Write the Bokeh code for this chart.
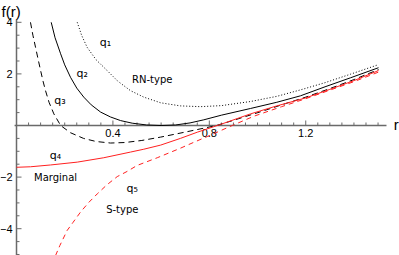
import numpy as np
from bokeh.plotting import figure
from bokeh.models import Range1d, Label
from bokeh.embed import file_html
from bokeh.resources import INLINE
from bokeh.core.properties import value

# ---- data ----
r_q1 = [0.252, 0.27, 0.293, 0.33, 0.376, 0.42, 0.473, 0.528, 0.598, 0.68, 0.763, 0.85, 0.971, 1.08, 1.178, 1.28, 1.386, 1.502]
f_q1 = [4.0, 3.5, 3.03, 2.55, 2.13, 1.72, 1.35, 1.10, 0.88, 0.76, 0.73, 0.77, 0.93, 1.13, 1.38, 1.66, 1.99, 2.36]

r_q2 = [0.144, 0.16, 0.183, 0.2, 0.224, 0.25, 0.279, 0.31, 0.349, 0.39, 0.432, 0.48, 0.54, 0.6, 0.66, 0.72, 0.777, 0.85, 0.971, 1.08, 1.178, 1.28, 1.386, 1.502]
f_q2 = [4.0, 3.4, 2.78, 2.35, 1.87, 1.45, 1.10, 0.80, 0.52, 0.33, 0.19, 0.09, 0.02, 0.0, 0.02, 0.10, 0.22, 0.40, 0.66, 0.90, 1.15, 1.50, 1.85, 2.24]

r_q3 = [0.058, 0.068, 0.079, 0.09, 0.1, 0.11, 0.12, 0.135, 0.155, 0.183, 0.224, 0.278, 0.33, 0.39, 0.45, 0.52, 0.598, 0.708, 0.83, 0.9, 1.012, 1.1, 1.2, 1.3, 1.4, 1.502]
f_q3 = [4.0, 3.5, 3.03, 2.55, 2.13, 1.72, 1.36, 0.90, 0.45, 0.0, -0.28, -0.50, -0.62, -0.68, -0.66, -0.58, -0.45, -0.24, 0.0, 0.20, 0.53, 0.80, 1.10, 1.43, 1.78, 2.17]

r_q4 = [0.0, 0.058, 0.141, 0.252, 0.362, 0.473, 0.528, 0.598, 0.68, 0.75, 0.846, 0.971, 1.08, 1.2, 1.3, 1.4, 1.502]
f_q4 = [-1.62, -1.60, -1.53, -1.42, -1.25, -1.03, -0.92, -0.76, -0.50, -0.26, 0.04, 0.45, 0.76, 1.07, 1.40, 1.74, 2.13]

r_q5 = [0.162, 0.18, 0.21, 0.235, 0.266, 0.3, 0.335, 0.375, 0.418, 0.459, 0.5, 0.584, 0.68, 0.736, 0.791, 0.895, 0.985, 1.1, 1.2, 1.3, 1.4, 1.502]
f_q5 = [-5.04, -4.65, -4.07, -3.75, -3.35, -2.98, -2.65, -2.30, -1.98, -1.78, -1.55, -1.25, -0.88, -0.65, -0.43, 0.0, 0.36, 0.73, 1.04, 1.37, 1.70, 2.07]

x_ticks = [0.4, 0.8, 1.2]
x_tick_labels = ["0.4", "0.8", "1.2"]
y_ticks = [-4, -2, 2, 4]
y_tick_labels = ["\u22124", "\u22122", "2", "4"]

x_min, x_max = -0.0664, 1.589
y_min, y_max = -5.039, 4.845

p = figure(width=399, height=255, x_range=Range1d(x_min, x_max), y_range=Range1d(y_min, y_max),
           toolbar_location=None, output_backend="svg", x_axis_location=None, y_axis_location=None,
           min_border=0, outline_line_color=None)
p.grid.visible = False
p.background_fill_color = "white"

# axes lines
axis_col = "#6a6a6a"
p.segment(x0=[-0.008], y0=[0], x1=[1.535], y1=[0], line_color=axis_col, line_width=1.5)
p.segment(x0=[0], y0=[y_min], x1=[0], y1=[4.1], line_color=axis_col, line_width=1.5)

# ticks
x_minor = [t for t in np.round(np.arange(0.05, 1.5001, 0.05), 3) if t not in x_ticks]
p.ray(x=x_minor, y=[0] * len(x_minor), length=3, length_units="screen", angle=np.pi / 2,
      line_color=axis_col, line_width=1)
p.ray(x=x_ticks, y=[0] * len(x_ticks), length=5, length_units="screen", angle=np.pi / 2,
      line_color=axis_col, line_width=1)
y_minor = [t for t in np.arange(-5.0, 4.01, 0.5) if t not in y_ticks and t != 0]
p.ray(x=[0] * len(y_minor), y=y_minor, length=3, length_units="screen", angle=0,
      line_color=axis_col, line_width=1)
p.ray(x=[0] * len(y_ticks), y=y_ticks, length=5, length_units="screen", angle=0,
      line_color=axis_col, line_width=1)

# tick labels
p.text(x=x_ticks, y=[0] * 3, text=x_tick_labels, text_align="center", text_baseline="top",
       y_offset=4, text_font=value("Liberation Sans"), text_font_size="11px", text_color="black")
p.text(x=[0] * 4, y=y_ticks, text=y_tick_labels, text_align="right", text_baseline="middle",
       x_offset=-4, text_font=value("Liberation Sans"), text_font_size="11px", text_color="black")

# curves
p.line(r_q1, f_q1, line_color="black", line_width=1, line_dash="1 2")
p.line(r_q2, f_q2, line_color="black", line_width=1)
p.line(r_q3, f_q3, line_color="black", line_width=1, line_dash="6 4")
p.line(r_q4, f_q4, line_color="#ff2020", line_width=1)
p.line(r_q5, f_q5, line_color="#ff2020", line_width=1, line_dash="5 4")

# annotations
def lab(x, y, t, size="10px", font="DejaVu Sans", align="center"):
    p.add_layout(Label(x=x, y=y, text=t, text_align=align, text_baseline="middle",
                       text_font=font, text_font_size=size, text_color="black"))

lab(0.369, 3.23, "q\u2081", size="11px")
lab(0.273, 2.03, "q\u2082", size="11px")
lab(0.180, 0.97, "q\u2083", size="11px")
lab(0.563, 1.77, "RN-type")
lab(0.162, -1.16, "q\u2084", size="11px")
lab(0.162, -2.00, "Marginal")
lab(0.480, -2.45, "q\u2085", size="11px")
lab(0.439, -3.27, "S-type")
lab(-0.062, 4.42, "f(r)", size="15px", font="Liberation Sans", align="left")
lab(1.575, 0.03, "r", size="15px", font="Liberation Sans")

open("out.html", "w").write(file_html(p, INLINE))
